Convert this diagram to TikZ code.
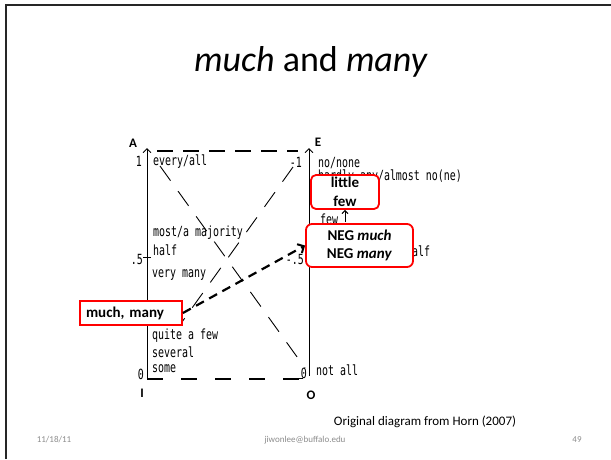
\documentclass[tikz,border=0pt]{standalone}
\usepackage{fontspec}
\setmainfont{Carlito}
\newfontfamily\hornfont[FakeStretch=0.71]{DejaVu Sans Mono}
\usetikzlibrary{arrows.meta}
\definecolor{footgray}{HTML}{8C8C8C}
\definecolor{boxred}{HTML}{FF0000}
\begin{document}
\begin{tikzpicture}[x=1pt,y=-1pt,
  horn/.style={font=\hornfont\fontsize{14}{14}\selectfont, inner sep=0pt, anchor=west},
  hornnum/.style={font=\hornfont\fontsize{14}{14}\selectfont, inner sep=0pt},
  corner/.style={font=\bfseries\fontsize{13}{13}\selectfont, inner sep=0pt},
  axis/.style={line width=0.9pt, -{Straight Barb[length=4pt,width=8pt]}},
  sqdash/.style={line width=1.8pt, dash pattern=on 16pt off 10pt},
  sqdashb/.style={line width=1.8pt, dash pattern=on 16pt off 18pt},
  diag/.style={line width=0.9pt, dash pattern=on 18pt off 13pt},
  redbox/.style={draw=boxred, line width=1.8pt, fill=white, align=center, inner sep=0pt,
    font=\bfseries\fontsize{15}{18.5}\selectfont},
  thickdash/.style={line width=2.2pt, dash pattern=on 9pt off 6pt,
    -{Straight Barb[length=5pt,width=10pt,line width=2pt]}},
  foot/.style={font=\fontsize{9}{9}\selectfont, text=footgray, inner sep=0pt}
]
\fill[white] (0,0) rectangle (611,459);
\useasboundingbox (0,0) rectangle (611,459);
% slide frame
\draw[line width=2pt, black!85] (6,459) -- (6,5) -- (611,5);

% title
\node[font=\fontsize{36}{36}\selectfont, inner sep=0pt] (title) at (311,62) {\textit{much} and \textit{many}};

% corners of the square
\coordinate (cA) at (147,151);
\coordinate (cE) at (309,151);
\coordinate (cI) at (147,379);
\coordinate (cO) at (309,379);
\coordinate (Atop) at (147,148);
\coordinate (Etop) at (309,148);
\coordinate (Ebot) at (309,376);

% axes
\draw[axis] (cI) -- (Atop);
\draw[axis] (Ebot) -- (Etop);

% dashed sides
\draw[sqdash] ([xshift=10pt]cA) -- ([xshift=-11pt]cE);
\draw[sqdashb] (cI) -- ([xshift=-3pt]cO);

% diagonals
\coordinate (dA) at (160,166);
\coordinate (dO) at (305,368);
\coordinate (dE) at (293,167);
\coordinate (dI) at (182,322);
\draw[diag] (dA) -- (dO);
\draw[diag] (dE) -- (dI);

% corner letters
\node[corner] (lA) at (133,143) {A};
\node[corner] (lE) at (318,142) {E};
\node[corner] (lI) at (142,393) {I};
\node[corner] (lO) at (311,395) {O};

% scale numbers
\node[hornnum, anchor=east] (n1) at (142,161) {1};
\node[hornnum, anchor=east] (nm1) at (302,162) {-1};
\node[hornnum, anchor=east] (n5) at (143,259) {.5};
\node[hornnum, anchor=east] (nm5) at (304,259) {-.5};
\node[hornnum, anchor=east] (n0) at (144,374) {0};
\node[hornnum, anchor=east] (nr0) at (307,373) {0};
\draw[line width=0.9pt] (143,257) -- (151,257);
\draw[line width=0.9pt] (296,378) -- (303,378);

% left labels
\node[horn] (every) at (153,162) {every/all};
\node[horn] (most) at (153,233) {most/a majority};
\node[horn] (half) at (153,250) {half};
\node[horn] (verymany) at (152,275) {very many};
\node[horn] (quite) at (152,336) {quite a few};
\node[horn] (several) at (152,352) {several};
\node[horn] (some) at (152,369) {some};

% right labels
\node[horn] (none) at (318,163) {no/none};
\node[horn] (hardly) at (318,177) {hardly any/almost no(ne)};
\node[horn] (few) at (320,219) {few};
\node[horn] (rhalf) at (406,251) {half};
\node[horn] (notall) at (316,370) {not all};

% red boxes
\node[redbox, rounded corners=5pt, minimum width=68pt, minimum height=34pt] (little) at (345,192) {little\\few};
\node[redbox, rounded corners=6pt, minimum width=107pt, minimum height=43pt] (neg) at (359.5,245.5) {NEG \textit{much}\\NEG \textit{many}};
\node[redbox, align=left, text width=90pt, inner xsep=6pt, minimum height=24pt] (much) at (131,313) {much, many};

% arrows
\draw[thickdash] (much.east) -- (neg.west);
\coordinate (fewtop) at (345,222);
\draw[line width=1pt, -{Straight Barb[length=3pt,width=6pt]}] (fewtop) -- (little.south);

% caption and footer
\node[font=\fontsize{13}{13}\selectfont, inner sep=0pt] (cap) at (425,422) {Original diagram from Horn (2007)};
\node[foot] (date) at (54,440) {11/18/11};
\node[foot] (mail) at (305,440) {jiwonlee@buffalo.edu};
\node[foot] (page) at (577,440) {49};
\end{tikzpicture}
\end{document}
